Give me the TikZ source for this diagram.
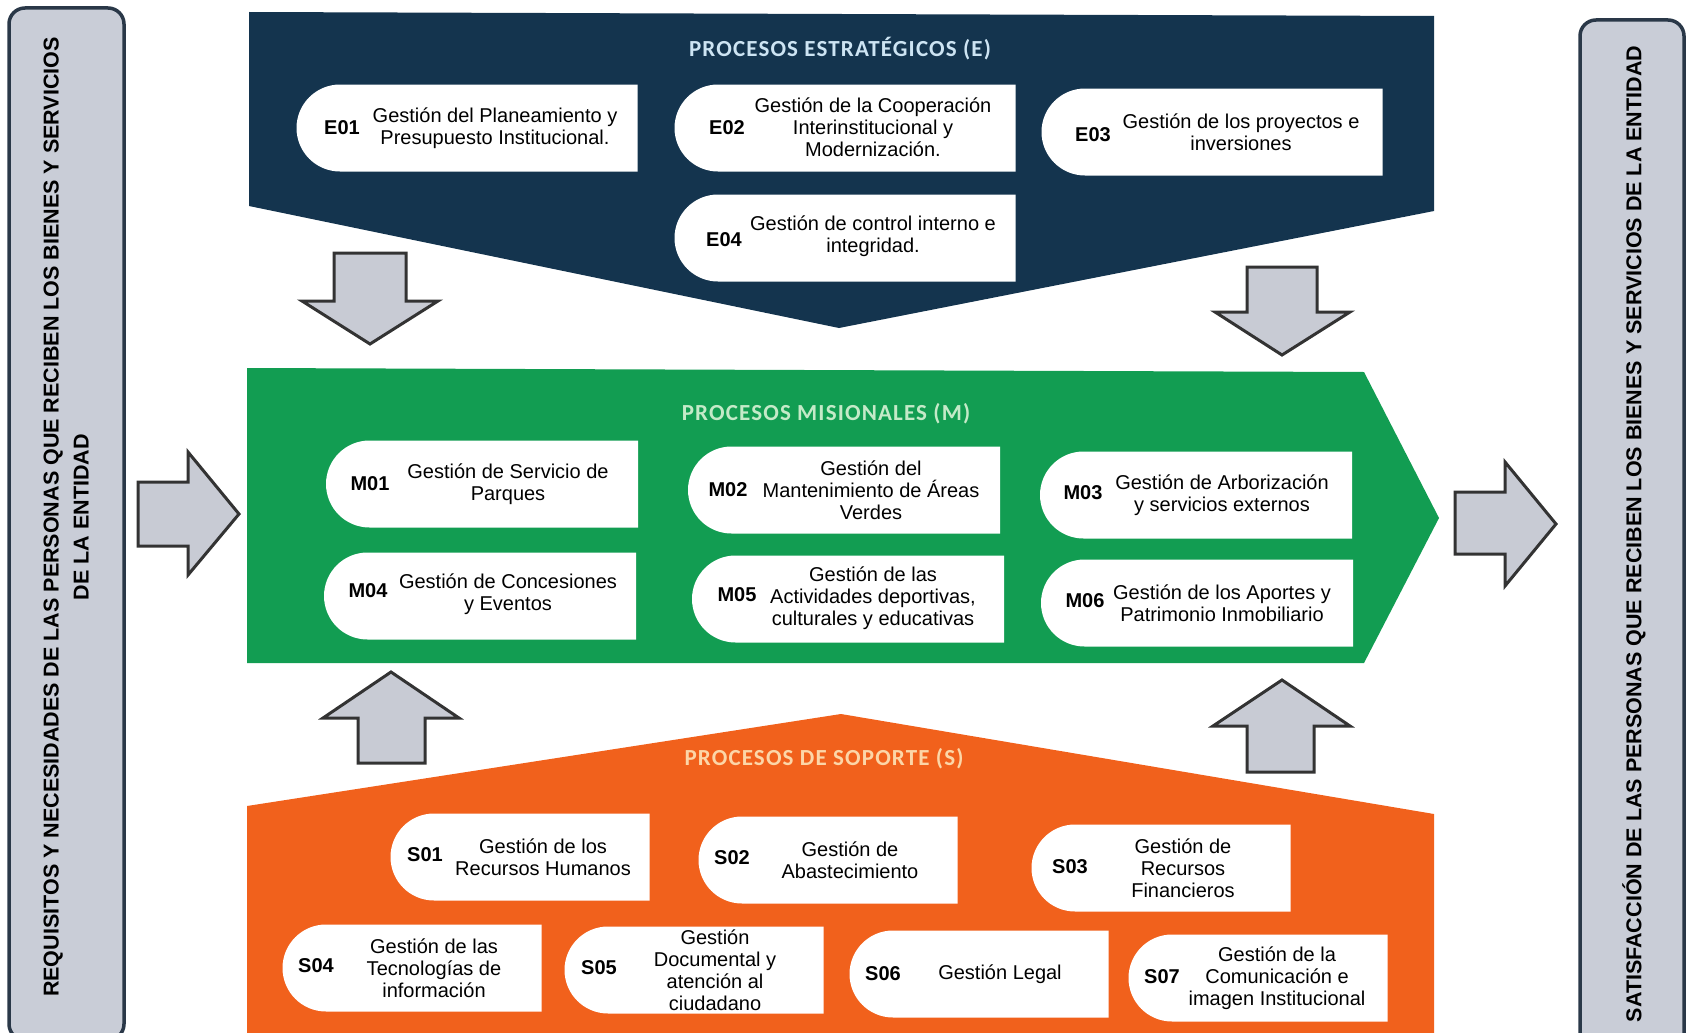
\documentclass[tikz,border=0pt]{standalone}
\usepackage{fontspec}
\setmainfont{Liberation Sans}
\newfontfamily\titlefont[LetterSpace=5]{Carlito}
\usetikzlibrary{shapes.misc}

\definecolor{navy}{RGB}{20,52,78}
\definecolor{misgreen}{RGB}{18,157,82}
\definecolor{suporange}{RGB}{241,97,28}
\definecolor{arrowgray}{RGB}{200,203,212}
\definecolor{sidegray}{RGB}{201,205,215}
\definecolor{sideline}{RGB}{42,56,72}
\definecolor{etitle}{RGB}{205,228,243}
\definecolor{mtitle}{RGB}{196,234,200}
\definecolor{stitle}{RGB}{252,214,168}

\tikzset{
  procbox/.style={rounded rectangle, rounded rectangle right arc=none, fill=white, inner sep=0pt, minimum height=87pt},
  ebox/.style={procbox, minimum width=341pt},
  mbox/.style={procbox, minimum width=312pt},
  sbox/.style={procbox, minimum width=259pt},
  pcode/.style={font=\fontsize{20}{22}\selectfont\bfseries, inner sep=0pt},
  ptext/.style={font=\fontsize{20}{22}\selectfont, align=center, inner sep=0pt},
  grouptitle/.style={font=\titlefont\fontsize{23}{26}\selectfont\bfseries, inner sep=0pt},
  blockarrow/.style={draw=black!80, line width=3pt, fill=arrowgray, line join=miter},
  sidebox/.style={draw=sideline, line width=3.5pt, fill=sidegray, rounded corners=16pt},
  sidetext/.style={font=\fontsize{21.5}{30}\selectfont\bfseries, rotate=90, align=center, inner sep=0pt}
}

\begin{document}
\begin{tikzpicture}[x=1pt,y=-1pt]
  \useasboundingbox (0,0) rectangle (1686,1033);
  \clip (0,0) rectangle (1686,1033);

  %%%%%%%%%%%%%side boxes%%%%%%%%%%%%%%%%%%%%%%
  \draw[sidebox] (9,8) rectangle (124,1040);
  \node[sidetext] (entrada) at (66,517) {REQUISITOS Y NECESIDADES DE LAS PERSONAS QUE RECIBEN LOS BIENES Y SERVICIOS\\DE LA ENTIDAD};
  \draw[sidebox] (1580,20) rectangle (1684,1050);
  \node[sidetext] (salida) at (1634,534) {SATISFACCIÓN DE LAS PERSONAS QUE RECIBEN LOS BIENES Y SERVICIOS DE LA ENTIDAD};

  %%%%%%%%%%%%%estrategicos%%%%%%%%%%%%%%%%%%%%%%
  \fill[navy] (249,12) -- (1434,16) -- (1434,211) -- (839,328) -- (249,206) -- cycle;
  \node[grouptitle, text=etitle] (etit) at (840,49) {PROCESOS ESTRATÉGICOS (E)};

  \node[ebox] (e01) at (467,128) {};
  \node[pcode] (e01c) at (342,128) {E01};
  \node[ptext] (e01t) at (495,128) {Gestión del Planeamiento y\\Presupuesto Institucional.};

  \node[ebox] (e02) at (845,128) {};
  \node[pcode] (e02c) at (727,128) {E02};
  \node[ptext] (e02t) at (873,127) {Gestión de la Cooperación\\Interinstitucional y\\Modernización.};

  \node[ebox] (e03) at (1212,132) {};
  \node[pcode] (e03c) at (1093,135) {E03};
  \node[ptext] (e03t) at (1241,132) {Gestión de los proyectos e\\inversiones};

  \node[ebox] (e04) at (845,238) {};
  \node[pcode] (e04c) at (724,240) {E04};
  \node[ptext] (e04t) at (873,236) {Gestión de control interno e\\integridad.};

  %%%%%%%%%%%%%misionales%%%%%%%%%%%%%%%%%%%%%%
  \fill[misgreen] (247,368) -- (1364,372) -- (1439,518) -- (1364,663) -- (247,663) -- cycle;
  \node[grouptitle, text=mtitle] (mtit) at (826,414) {PROCESOS MISIONALES (M)};

  \node[mbox] (m01) at (482,484) {};
  \node[pcode] (m01c) at (370,484) {M01};
  \node[ptext] (m01t) at (508,484) {Gestión de Servicio de\\Parques};

  \node[mbox] (m02) at (844,490) {};
  \node[pcode] (m02c) at (728,490) {M02};
  \node[ptext] (m02t) at (871,490) {Gestión del\\Mantenimiento de Áreas\\Verdes};

  \node[mbox] (m03) at (1196,495) {};
  \node[pcode] (m03c) at (1083,493) {M03};
  \node[ptext] (m03t) at (1222,495) {Gestión de Arborización\\y servicios externos};

  \node[mbox] (m04) at (480,596) {};
  \node[pcode] (m04c) at (368,591) {M04};
  \node[ptext] (m04t) at (508,594) {Gestión de Concesiones\\y Eventos};

  \node[mbox] (m05) at (848,599) {};
  \node[pcode] (m05c) at (737,595) {M05};
  \node[ptext] (m05t) at (873,598) {Gestión de las\\Actividades deportivas,\\culturales y educativas};

  \node[mbox] (m06) at (1197,603) {};
  \node[pcode] (m06c) at (1085,601) {M06};
  \node[ptext] (m06t) at (1222,603) {Gestión de los Aportes y\\Patrimonio Inmobiliario};

  %%%%%%%%%%%%%soporte%%%%%%%%%%%%%%%%%%%%%%
  \fill[suporange] (247,806) -- (841,714) -- (1434,814) -- (1434,1050) -- (247,1050) -- cycle;
  \node[grouptitle, text=stitle] (stit) at (824,759) {PROCESOS DE SOPORTE (S)};

  \node[sbox] (s01) at (520,857) {};
  \node[pcode] (s01c) at (425,855) {S01};
  \node[ptext] (s01t) at (543,857) {Gestión de los\\Recursos Humanos};

  \node[sbox] (s02) at (828,860) {};
  \node[pcode] (s02c) at (732,858) {S02};
  \node[ptext] (s02t) at (850,860) {Gestión de\\Abastecimiento};

  \node[sbox] (s03) at (1161,868) {};
  \node[pcode] (s03c) at (1070,867) {S03};
  \node[ptext] (s03t) at (1183,868) {Gestión de\\Recursos\\Financieros};

  \node[sbox] (s04) at (412,968) {};
  \node[pcode] (s04c) at (316,966) {S04};
  \node[ptext] (s04t) at (434,968) {Gestión de las\\Tecnologías de\\información};

  \node[sbox] (s05) at (694,970) {};
  \node[pcode] (s05c) at (599,968) {S05};
  \node[ptext] (s05t) at (715,970) {Gestión\\Documental y\\atención al\\ciudadano};

  \node[sbox] (s06) at (979,974) {};
  \node[pcode] (s06c) at (883,974) {S06};
  \node[ptext] (s06t) at (1000,974) {Gestión Legal};

  \node[sbox] (s07) at (1258,978) {};
  \node[pcode] (s07c) at (1162,977) {S07};
  \node[ptext] (s07t) at (1277,978) {Gestión de la\\Comunicación e\\imagen Institucional};

  %%%%%%%%%%%%%block arrows%%%%%%%%%%%%%%%%%%%%%%
  \draw[blockarrow] (138,482) -- (188,482) -- (188,452) -- (239,514) -- (188,575) -- (188,546) -- (138,546) -- cycle;
  \draw[blockarrow] (1455,492) -- (1505,492) -- (1505,462) -- (1556,524) -- (1505,586) -- (1505,554) -- (1455,554) -- cycle;
  \draw[blockarrow] (334,253) -- (406,253) -- (406,301) -- (438,301) -- (370,344) -- (302,301) -- (334,301) -- cycle;
  \draw[blockarrow] (1247,267) -- (1317,267) -- (1317,312) -- (1350,312) -- (1282,355) -- (1215,312) -- (1247,312) -- cycle;
  \draw[blockarrow] (358,763) -- (425,763) -- (425,718) -- (459,718) -- (391,672) -- (323,718) -- (358,718) -- cycle;
  \draw[blockarrow] (1247,772) -- (1314,772) -- (1314,726) -- (1350,726) -- (1282,680) -- (1213,726) -- (1247,726) -- cycle;
\end{tikzpicture}
\end{document}
